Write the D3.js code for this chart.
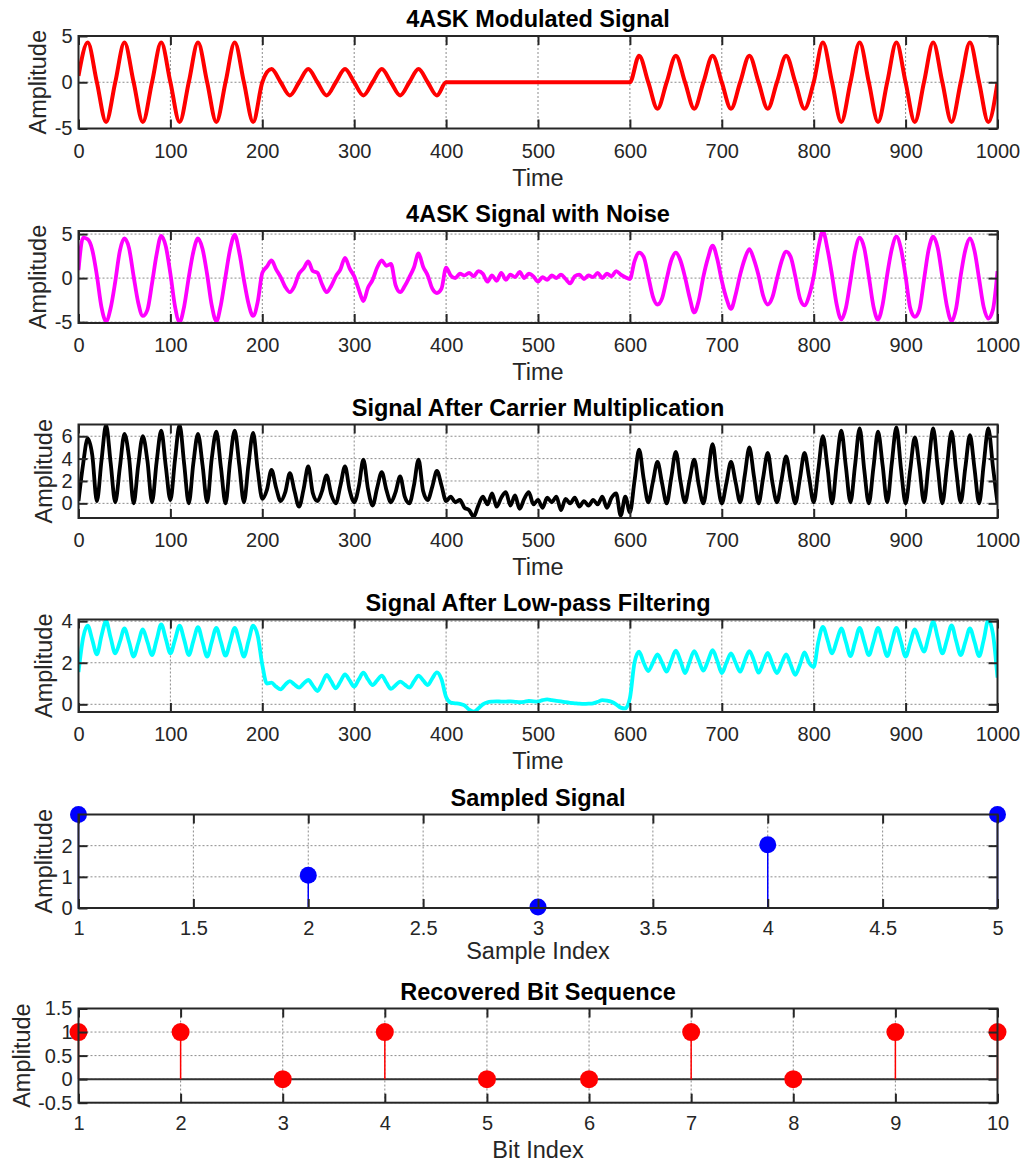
<!DOCTYPE html>
<html>
<head>
<meta charset="utf-8">
<script src="https://cdn.jsdelivr.net/npm/d3@7"></script>
<style>
  body { margin: 0; background: #fff; }
  text { font-family: "Liberation Sans", Arial, Helvetica, sans-serif; }
</style>
</head>
<body>
<svg id="fig" width="1023" height="1162"></svg>
<script>
    // ---- data ----
    // clean 4ASK signal, one value every 10 time units (t = 0..1000)
    var askSignal = [0.7,
      4.3, 0, -4.3, 0, 4.3, 0, -4.3, 0, 4.3, 0, -4.3, 0, 4.3, 0, -4.3, 0, 4.3, 0, -4.3, 0,
      1.43, 0, -1.43, 0, 1.43, 0, -1.43, 0, 1.43, 0, -1.43, 0, 1.43, 0, -1.43, 0, 1.43, 0, -1.43, 0,
      0, 0, 0, 0, 0, 0, 0, 0, 0, 0, 0, 0, 0, 0, 0, 0, 0, 0, 0, 0,
      2.87, 0, -2.87, 0, 2.87, 0, -2.87, 0, 2.87, 0, -2.87, 0, 2.87, 0, -2.87, 0, 2.87, 0, -2.87, 0,
      4.3, 0, -4.3, 0, 4.3, 0, -4.3, 0, 4.3, 0, -4.3, 0, 4.3, 0, -4.3, 0, 4.3, 0, -4.3, 0];

    // noisy, mixed and filtered signals, one value every 5 time units
    var noisySignal = [0.9,
      4.6, 4.4, 3.2, 0.3, -3.3, -4.9, -3.4, -0.4, 3.1, 4.5, 3.4, 0.2, -2.8, -4.3, -3.6, -0.6, 2.7, 4.8, 3.6, 0.5,
      -3.2, -5.0, -3.2, 0.1, 3.0, 4.5, 3.3, 0.4, -3.1, -4.9, -3.0, 0.2, 3.3, 4.9, 2.9, -0.2, -2.9, -4.3, -2.7, 0.6,
      1.3, 2.0, 1.0, 0.1, -1.0, -1.6, -0.9, 0.5, 1.1, 1.9, 0.8, 0.6, -0.7, -1.6, -0.9, 0.2, 1.0, 2.3, 1.1, 0.2,
      -1.3, -2.6, -1.1, -0.2, 1.2, 2.0, 1.4, 1.6, -0.8, -1.6, -0.9, 0.1, 1.2, 2.8, 1.3, 0.3, -1.2, -1.7, -1.2, 1.2,
      0.3, 0.0, 0.5, 0.3, 0.6, 0.2, 0.8, 0.5, -0.4, 0.3, -0.3, 0.6, -0.2, 0.4, 0.1, 0.7, 0.0, 0.5, 0.2, -0.4,
      0.1, -0.2, 0.3, 0.0, 0.4, -0.1, -0.6, 0.2, 0.4, -0.1, 0.3, 0.1, 0.6, 0.0, 0.5, 0.2, 0.8, 0.4, 0.1, -0.1,
      1.9, 2.9, 2.4, 0.2, -2.1, -3.0, -2.3, -0.1, 2.0, 2.9, 2.0, 0.1, -2.2, -3.9, -2.5, 0.2, 2.3, 3.7, 2.2, -0.3,
      -2.3, -3.5, -1.9, 0.4, 2.2, 3.3, 2.1, 0.3, -2.0, -3.0, -2.2, -0.1, 1.9, 3.0, 2.4, 0.2, -2.3, -3.1, -2.0, 0.2,
      3.4, 5.3, 3.3, 0.3, -3.0, -4.7, -3.4, -0.3, 3.0, 4.6, 3.4, 0.2, -3.2, -4.7, -3.0, 0.4, 3.3, 4.7, 3.3, 0.2,
      -3.4, -4.4, -3.6, -0.2, 3.2, 4.7, 3.4, 0.1, -3.2, -4.9, -3.4, 0.3, 3.2, 4.5, 3.1, -0.1, -3.3, -4.6, -3.6, 0.8];

    var mixedSignal = [0.2,
      3.5, 5.8, 4.3, 0.2, 3.8, 7.0, 3.6, 0.1, 3.2, 6.2, 4.1, 0.0, 3.4, 6.0, 3.8, 0.1, 3.7, 6.5, 3.3, 0.3,
      3.9, 7.0, 3.5, 0.0, 3.6, 6.2, 3.4, 0.1, 4.0, 6.4, 3.2, 0.0, 3.8, 6.5, 3.4, 0.1, 3.5, 6.3, 3.0, 0.4,
      1.2, 3.0, 1.4, 0.2, 1.0, 2.7, 1.1, -0.3, 1.3, 3.3, 0.9, 0.2, 1.1, 2.5, 0.8, 0.0, 1.6, 3.3, 1.2, 0.1,
      1.5, 3.9, 1.3, -0.2, 1.4, 2.8, 1.2, 0.1, 1.0, 2.4, 0.6, 0.0, 1.6, 3.9, 1.1, 0.3, 1.5, 2.9, 1.6, 0.2,
      0.6, 0.1, 0.3, -0.4, -0.6, -1.2, -0.2, 0.6, -0.1, 0.9, -0.3, 0.5, 1.0, -0.2, 0.7, -0.5, 0.4, 1.0, -0.1, 0.3,
      -0.4, 0.5, 0.1, 0.6, -0.6, 0.4, 0.0, 0.5, -0.3, 0.2, -0.2, 0.3, -0.1, 0.6, -0.4, 0.5, 0.9, -1.1, 0.6, -0.8,
      2.0, 4.8, 2.2, 0.1, 1.9, 3.7, 1.8, 0.0, 2.3, 4.6, 2.0, 0.1, 2.1, 3.9, 1.6, 0.0, 2.6, 5.3, 2.2, 0.0,
      1.8, 3.7, 1.9, 0.1, 2.5, 5.0, 2.4, 0.0, 2.3, 4.5, 1.9, 0.1, 2.1, 4.2, 2.0, 0.0, 2.2, 4.5, 2.3, 0.1,
      3.0, 6.0, 3.2, 0.0, 3.5, 6.5, 3.3, 0.1, 3.4, 6.7, 3.0, 0.0, 3.2, 6.4, 3.4, 0.1, 3.6, 6.8, 3.1, 0.0,
      3.0, 5.9, 3.3, 0.1, 3.5, 6.7, 3.2, 0.0, 3.3, 6.4, 3.0, 0.1, 3.2, 6.1, 3.1, 0.0, 3.5, 6.7, 3.3, 0.0];

    var filteredSignal = [1.55,
      3.2, 3.78, 3.1, 2.4, 3.3, 4.0, 3.2, 2.45, 3.0, 3.65, 3.0, 2.3, 2.95, 3.6, 3.0, 2.37, 3.1, 3.84, 3.15, 2.45,
      3.1, 3.78, 3.1, 2.37, 3.05, 3.71, 3.0, 2.29, 3.0, 3.68, 3.0, 2.34, 3.0, 3.68, 3.0, 2.29, 3.05, 3.78, 3.3, 1.9,
      1.0, 1.04, 0.85, 0.72, 0.95, 1.12, 0.95, 0.8, 1.0, 1.17, 0.9, 0.64, 1.0, 1.41, 1.1, 0.77, 1.1, 1.44, 1.15, 0.85,
      1.2, 1.52, 1.2, 0.93, 1.15, 1.38, 1.05, 0.74, 0.92, 1.09, 0.95, 0.8, 1.1, 1.38, 1.15, 0.93, 1.25, 1.54, 1.2, 0.35,
      0.08, 0.05, 0.02, -0.05, -0.25, -0.35, -0.2, 0.0, 0.1, 0.13, 0.14, 0.13, 0.13, 0.14, 0.12, 0.1, 0.12, 0.16, 0.14, 0.13,
      0.2, 0.24, 0.2, 0.16, 0.14, 0.1, 0.07, 0.05, 0.03, 0.02, 0.03, 0.05, 0.12, 0.2, 0.18, 0.12, 0.0, -0.16, -0.2, 0.3,
      2.0, 2.53, 2.0, 1.6, 2.0, 2.4, 2.0, 1.57, 2.1, 2.58, 2.1, 1.5, 2.05, 2.56, 2.1, 1.62, 2.1, 2.6, 2.1, 1.5,
      2.0, 2.45, 2.0, 1.57, 2.1, 2.56, 2.1, 1.52, 2.0, 2.47, 1.95, 1.5, 1.95, 2.4, 1.9, 1.42, 1.9, 2.5, 2.0, 1.8,
      3.0, 3.73, 3.1, 2.45, 3.05, 3.65, 3.0, 2.32, 3.0, 3.68, 3.0, 2.37, 3.0, 3.68, 3.0, 2.32, 3.0, 3.68, 3.0, 2.29,
      2.95, 3.6, 3.05, 2.53, 3.25, 3.97, 3.2, 2.45, 3.1, 3.8, 3.05, 2.37, 3.0, 3.65, 3.0, 2.32, 3.1, 4.05, 3.4, 1.28];

    var sampleIndex = [1, 2, 3, 4, 5];
    var sampledValues = [3.0, 1.05, 0.03, 2.03, 3.0];
    var bitIndex = [1, 2, 3, 4, 5, 6, 7, 8, 9, 10];
    var recoveredBits = [1, 1, 0, 1, 0, 0, 1, 0, 1, 1];

    var timeTicks = [0, 100, 200, 300, 400, 500, 600, 700, 800, 900, 1000];
    var sampleTicks = [1, 1.5, 2, 2.5, 3, 3.5, 4, 4.5, 5];

    // ---- layout ----
    var svg = d3.select("#fig");
    var plotLeft = 78.5, plotRight = 997.5;
    var tickLen = 9;

    var panels = [
      {title: "4ASK Modulated Signal", top: 36, bottom: 128.5, xDomain: [0, 1000], xTicks: timeTicks,
       yDomain: [-5, 5], yTicks: [-5, 0, 5], xLabel: "Time", values: askSignal, step: 10,
       color: "#ff0000", width: 4, yLabelX: 46},
      {title: "4ASK Signal with Noise", top: 231, bottom: 323, xDomain: [0, 1000], xTicks: timeTicks,
       yDomain: [-5.1, 5.35], yTicks: [-5, 0, 5], xLabel: "Time", values: noisySignal, step: 5,
       color: "#ff00ff", width: 3.8, yLabelX: 46},
      {title: "Signal After Carrier Multiplication", top: 424.5, bottom: 518, xDomain: [0, 1000], xTicks: timeTicks,
       yDomain: [-1.31, 7.05], yTicks: [0, 2, 4, 6], xLabel: "Time", values: mixedSignal, step: 5,
       color: "#000000", width: 3.8, yLabelX: 52},
      {title: "Signal After Low-pass Filtering", top: 619.5, bottom: 712, xDomain: [0, 1000], xTicks: timeTicks,
       yDomain: [-0.37, 4.08], yTicks: [0, 2, 4], xLabel: "Time", values: filteredSignal, step: 5,
       color: "#00ffff", width: 3.8, yLabelX: 52},
      {title: "Sampled Signal", top: 814.5, bottom: 908, xDomain: [1, 5], xTicks: sampleTicks,
       yDomain: [0, 3], yTicks: [0, 1, 2], xLabel: "Sample Index", stem: true, xs: sampleIndex, values: sampledValues,
       color: "#0000ff", r: 8.5, tickGap: 27, labelGap: 51, yLabelX: 52},
      {title: "Recovered Bit Sequence", top: 1008.5, bottom: 1102.7, xDomain: [1, 10], xTicks: bitIndex,
       yDomain: [-0.5, 1.5], yTicks: [-0.5, 0, 0.5, 1, 1.5], xLabel: "Bit Index", stem: true, xs: bitIndex, values: recoveredBits,
       color: "#ff0000", r: 9, baseline: true, tickGap: 27, labelGap: 55, yLabelX: 29.5}
    ];

    panels.forEach(function(p, k) {
      var x = d3.scaleLinear().domain(p.xDomain).range([plotLeft, plotRight]);
      var y = d3.scaleLinear().domain(p.yDomain).range([p.bottom, p.top]);
      var g = svg.append("g");

      g.append("clipPath").attr("id", "clip" + k)
        .append("rect")
        .attr("x", plotLeft).attr("y", p.top)
        .attr("width", plotRight - plotLeft).attr("height", p.bottom - p.top);

      // dotted grid
      var grid = g.append("g")
        .attr("stroke", "#8c8c8c")
        .attr("stroke-width", 1)
        .attr("stroke-dasharray", "2,2");
      grid.selectAll(".gx").data(p.xTicks).join("line")
        .attr("x1", d => x(d)).attr("x2", d => x(d))
        .attr("y1", p.top).attr("y2", p.bottom);
      grid.selectAll(".gy").data(p.yTicks).join("line")
        .attr("x1", plotLeft).attr("x2", plotRight)
        .attr("y1", d => y(d)).attr("y2", d => y(d));

      if (!p.stem) {
        var line = d3.line()
          .x((d, i) => x(i * p.step))
          .y(d => y(d))
          .curve(d3.curveMonotoneX);
        g.append("path")
          .attr("clip-path", "url(#clip" + k + ")")
          .attr("d", line(p.values))
          .attr("fill", "none")
          .attr("stroke", p.color)
          .attr("stroke-width", p.width)
          .attr("stroke-linejoin", "round");
      } else {
        if (p.baseline) {
          g.append("line")
            .attr("x1", plotLeft).attr("x2", plotRight)
            .attr("y1", y(0)).attr("y2", y(0))
            .attr("stroke", "#333")
            .attr("stroke-width", 2);
        }
        g.selectAll(".stem").data(p.values).join("line")
          .attr("x1", (d, i) => x(p.xs[i])).attr("x2", (d, i) => x(p.xs[i]))
          .attr("y1", y(0)).attr("y2", d => y(d))
          .attr("stroke", p.color)
          .attr("stroke-width", 1.5);
        g.selectAll(".mark").data(p.values).join("circle")
          .attr("cx", (d, i) => x(p.xs[i]))
          .attr("cy", d => y(d))
          .attr("r", p.r)
          .attr("fill", p.color);
      }

      // axes with inward ticks on all four sides
      var fmt = d => String(d);
      var tickGap = p.tickGap || 29;
      var ax = [
        g.append("g").attr("transform", "translate(0," + p.bottom + ")")
          .call(d3.axisBottom(x).tickValues(p.xTicks).tickFormat(fmt).tickSize(-tickLen).tickPadding(tickGap - 14.2)),
        g.append("g").attr("transform", "translate(0," + p.top + ")")
          .call(d3.axisTop(x).tickValues(p.xTicks).tickFormat("").tickSize(-tickLen)),
        g.append("g").attr("transform", "translate(" + plotLeft + ",0)")
          .call(d3.axisLeft(y).tickValues(p.yTicks).tickFormat(fmt).tickSize(-tickLen).tickPadding(6)),
        g.append("g").attr("transform", "translate(" + plotRight + ",0)")
          .call(d3.axisRight(y).tickValues(p.yTicks).tickFormat("").tickSize(-tickLen))
      ];
      ax.forEach(function(a) {
        a.select(".domain").remove();
        a.selectAll(".tick line").attr("stroke", "#262626").attr("stroke-width", 2);
        a.selectAll(".tick text")
          .attr("fill", "#262626")
          .style("font-size", "20px")
          .style("font-family", "'Liberation Sans', Arial, sans-serif");
      });

      g.append("rect")
        .attr("x", plotLeft).attr("y", p.top)
        .attr("width", plotRight - plotLeft).attr("height", p.bottom - p.top)
        .attr("fill", "none")
        .attr("stroke", "#262626")
        .attr("stroke-width", 2);

      g.append("text")
        .attr("x", (plotLeft + plotRight) / 2)
        .attr("y", p.top - 9)
        .attr("text-anchor", "middle")
        .attr("font-weight", "bold")
        .attr("font-size", "23.5px")
        .attr("fill", "#000")
        .text(p.title);

      g.append("text")
        .attr("x", (plotLeft + plotRight) / 2)
        .attr("y", p.bottom + (p.labelGap || 57))
        .attr("text-anchor", "middle")
        .attr("font-size", "23.5px")
        .attr("fill", "#262626")
        .text(p.xLabel);

      g.append("text")
        .attr("transform", "translate(" + p.yLabelX + "," + ((p.top + p.bottom) / 2) + ") rotate(-90)")
        .attr("text-anchor", "middle")
        .attr("font-size", "23.5px")
        .attr("fill", "#262626")
        .text("Amplitude");
    });
</script>
</body>
</html>
